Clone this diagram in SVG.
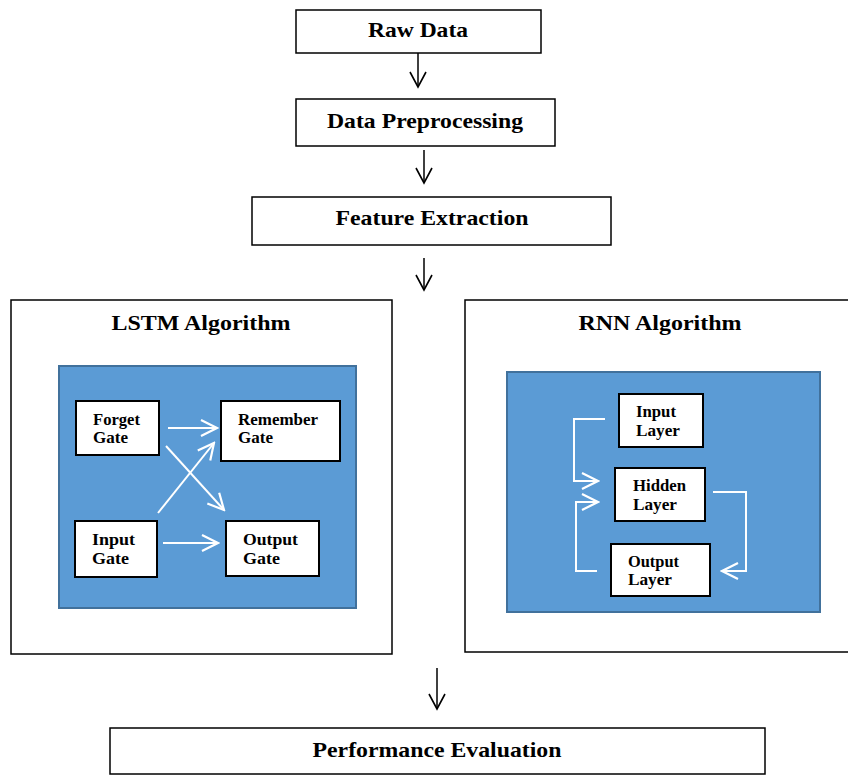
<svg xmlns="http://www.w3.org/2000/svg" width="848" height="775" viewBox="0 0 848 775">
<defs>
<marker id="ah" viewBox="0 0 20 20" refX="18" refY="10" markerWidth="20" markerHeight="20" markerUnits="userSpaceOnUse" orient="auto">
<path d="M3,2 L18,10 L3,18" fill="none" stroke="#000" stroke-width="1.6"/>
</marker>
<marker id="wh" viewBox="0 0 24 24" refX="22" refY="12" markerWidth="24" markerHeight="24" markerUnits="userSpaceOnUse" orient="auto">
<path d="M6,4 L22,12 L6,20" fill="none" stroke="#fff" stroke-width="2.2"/>
</marker>
</defs>
<style>
.box{fill:#fff;stroke:#000;stroke-width:1.5}
.inner{fill:#fff;stroke:#000;stroke-width:2}
.blue{fill:#5B9BD5;stroke:#41719C;stroke-width:2}
.t{font-family:"Liberation Serif",serif;font-weight:bold;fill:#000}
.big{font-size:22px;text-anchor:middle}
.sm{font-size:17px}
.con{fill:none;stroke:#000;stroke-width:1.5;marker-end:url(#ah)}
.w{fill:none;stroke:#fff;stroke-width:2;marker-end:url(#wh)}
</style>
<rect width="848" height="775" fill="#fff"/>
<g id="raw"><rect class="box" x="296" y="10" width="245" height="43"/><text class="t big" x="418" y="37" textLength="100" lengthAdjust="spacingAndGlyphs">Raw Data</text></g>
<g id="prep"><rect class="box" x="296" y="99" width="259" height="47"/><text class="t big" x="425" y="128" textLength="196" lengthAdjust="spacingAndGlyphs">Data Preprocessing</text></g>
<g id="feat"><rect class="box" x="252" y="197" width="359" height="48"/><text class="t big" x="432" y="225" textLength="193" lengthAdjust="spacingAndGlyphs">Feature Extraction</text></g>
<g id="lstm"><rect class="box" x="11" y="300" width="381" height="354"/><text class="t big" x="201" y="330" textLength="179" lengthAdjust="spacingAndGlyphs">LSTM Algorithm</text>
<rect class="blue" x="59" y="366" width="297" height="242"/></g>
<g id="forget"><rect class="inner" x="76" y="401" width="83" height="54"/><text class="t sm" x="93" y="425" textLength="47" lengthAdjust="spacingAndGlyphs">Forget</text><text class="t sm" x="93" y="443" textLength="35" lengthAdjust="spacingAndGlyphs">Gate</text></g>
<g id="remember"><rect class="inner" x="221" y="401" width="119" height="60"/><text class="t sm" x="238" y="425" textLength="80" lengthAdjust="spacingAndGlyphs">Remember</text><text class="t sm" x="238" y="443" textLength="35" lengthAdjust="spacingAndGlyphs">Gate</text></g>
<g id="input"><rect class="inner" x="75" y="521" width="82" height="56"/><text class="t sm" x="92" y="545" textLength="43" lengthAdjust="spacingAndGlyphs">Input</text><text class="t sm" x="92" y="564" textLength="37" lengthAdjust="spacingAndGlyphs">Gate</text></g>
<g id="output"><rect class="inner" x="226" y="521" width="93" height="55"/><text class="t sm" x="243" y="545" textLength="55" lengthAdjust="spacingAndGlyphs">Output</text><text class="t sm" x="243" y="564" textLength="37" lengthAdjust="spacingAndGlyphs">Gate</text></g>
<g id="rnn"><rect class="box" x="465" y="300" width="390" height="352"/><text class="t big" x="660" y="330" textLength="163" lengthAdjust="spacingAndGlyphs">RNN Algorithm</text>
<rect class="blue" x="507" y="372" width="313" height="240"/></g>
<g id="inlayer"><rect class="inner" x="619" y="394" width="84" height="53"/><text class="t sm" x="636" y="417" textLength="40" lengthAdjust="spacingAndGlyphs">Input</text><text class="t sm" x="636" y="436" textLength="44" lengthAdjust="spacingAndGlyphs">Layer</text></g>
<g id="hidden"><rect class="inner" x="615" y="468" width="90" height="53"/><text class="t sm" x="633" y="491" textLength="53" lengthAdjust="spacingAndGlyphs">Hidden</text><text class="t sm" x="633" y="510" textLength="44" lengthAdjust="spacingAndGlyphs">Layer</text></g>
<g id="outlayer"><rect class="inner" x="611" y="544" width="99" height="52"/><text class="t sm" x="628" y="567" textLength="51" lengthAdjust="spacingAndGlyphs">Output</text><text class="t sm" x="628" y="585" textLength="44" lengthAdjust="spacingAndGlyphs">Layer</text></g>
<g id="perf"><rect class="box" x="110" y="728" width="655" height="46"/><text class="t big" x="437" y="757" textLength="249" lengthAdjust="spacingAndGlyphs">Performance Evaluation</text></g>
<g id="connectors">
<line class="con" x1="418" y1="53" x2="418" y2="87"/>
<line class="con" x1="424" y1="150" x2="424" y2="183"/>
<line class="con" x1="424" y1="258" x2="424" y2="290"/>
<line class="con" x1="437" y1="668" x2="437" y2="709"/>
<line class="w" x1="168" y1="428" x2="217" y2="428"/>
<line class="w" x1="166" y1="446" x2="224" y2="510"/>
<line class="w" x1="158" y1="513" x2="214" y2="443"/>
<line class="w" x1="163" y1="543" x2="218" y2="543"/>
<polyline class="w" points="605,419 574,419 574,481 598,481"/>
<polyline class="w" points="597,571 576,571 576,502 598,502"/>
<polyline class="w" points="713,492 746,492 746,571 722,571"/>
</g>
</svg>
